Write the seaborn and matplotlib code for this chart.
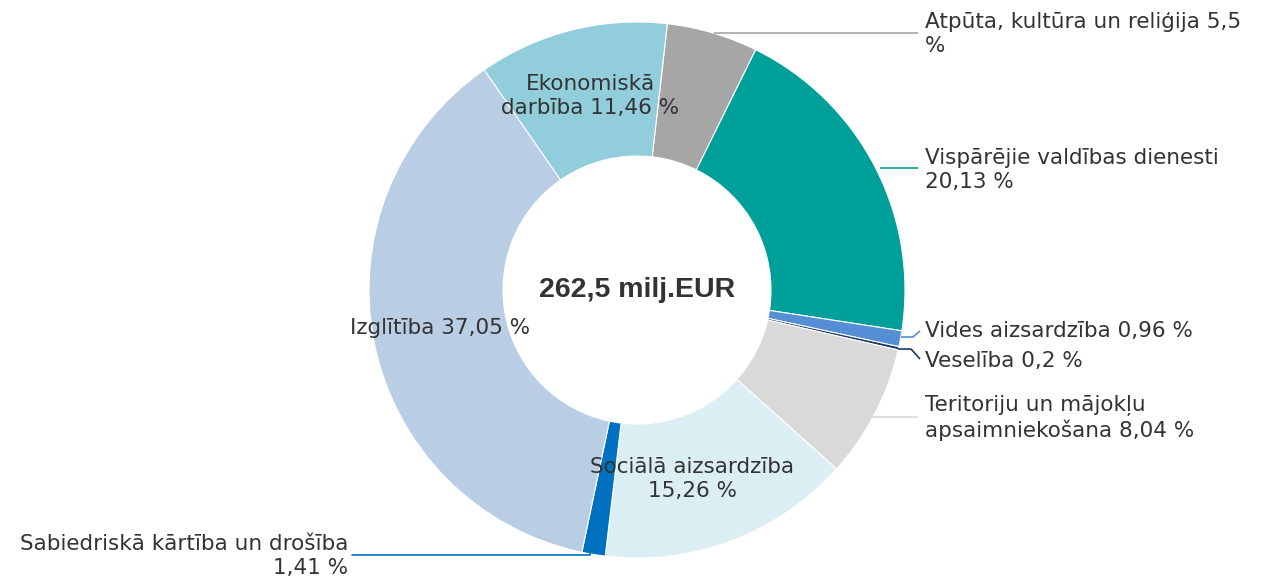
import matplotlib
matplotlib.use("Agg")
import matplotlib.pyplot as plt
import seaborn as sns


# -------------------------------
# DATA
# -------------------------------
categories = [
    "Atpūta, kultūra un reliģija",
    "Vispārējie valdības dienesti",
    "Vides aizsardzība",
    "Veselība",
    "Teritoriju un mājokļu apsaimniekošana",
    "Sociālā aizsardzība",
    "Sabiedriskā kārtība un drošība",
    "Izglītība",
    "Ekonomiskā darbība",
]
shares = [5.5, 20.13, 0.96, 0.2, 8.04, 15.26, 1.41, 37.05, 11.46]
share_labels = ["5,5", "20,13", "0,96", "0,2", "8,04", "15,26", "1,41", "37,05", "11,46"]
colors = ["#A6A6A6", "#00A09A", "#558ED5", "#1F3864", "#D9D9D9",
          "#DBEEF4", "#0070C0", "#B9CDE5", "#92CDDC"]
center_text = "262,5 milj.EUR"

# -------------------------------
# FIGURE (pixel helpers)
# -------------------------------
W, H = 1266, 583
CX, CY, R = 637, 290, 268


def px(x, y):
    # pixel (from top-left) -> data units, radius = 1
    return (x - CX) / R, (CY - y) / R


sns.set_theme(style="white")
plt.rcParams["font.family"] = ["DejaVu Sans"]
txt_color = "#333333"

fig = plt.figure(figsize=(W / 100, H / 100), dpi=100)
ax = fig.add_axes([0, 0, 1, 1])

ax.pie(shares, colors=colors, startangle=83.5, counterclock=False,
       radius=1, wedgeprops=dict(width=0.5, edgecolor="white", linewidth=0.8))

# limits after pie(), which resets them
ax.set_xlim(-CX / R, (W - CX) / R)
ax.set_ylim(-(H - CY) / R, CY / R)
ax.set_aspect("equal")
ax.axis("off")

ax.text(0, 0, center_text, ha="center", va="center", fontsize=20.5,
        fontweight="bold", family="Liberation Sans", color=txt_color)

fs = 15.5
ls = 1.22

# inside labels
inside = [
    (8, "Ekonomiskā\ndarbība {} %", 590, 96),
    (7, "Izglītība {} %", 440, 328),
    (5, "Sociālā aizsardzība\n{} %", 692, 479),
]
for i, fmt, x, y in inside:
    ax.text(*px(x, y), fmt.format(share_labels[i]), ha="center", va="center",
            fontsize=fs, color=txt_color, linespacing=ls)

# outside labels with connectors: (index, text, text pos, connector pts)
outside = [
    (0, "{} {}\n%", (925, 34), [(714, 33), (918, 33)]),
    (1, "Vispārējie valdības dienesti\n{} %", (925, 170), [(880, 168), (918, 168)]),
    (2, "{} {} %", (925, 331), [(901, 337), (913, 337), (920, 331)]),
    (3, "{} {} %", (925, 361), [(898, 349), (911, 349), (920, 359)]),
    (4, "Teritoriju un mājokļu\napsaimniekošana {} %", (925, 418), [(870, 417), (918, 417)]),
]
for i, fmt, (x, y), pts in outside:
    if fmt.count("{}") == 2:
        label = fmt.format(categories[i], share_labels[i])
    else:
        label = fmt.format(share_labels[i])
    ax.text(*px(x, y), label, ha="left", va="center", fontsize=fs,
            color=txt_color, linespacing=ls)
    xs, ys = zip(*[px(a, b) for a, b in pts])
    ax.plot(xs, ys, color=colors[i], lw=1.2, solid_capstyle="butt")

# Sabiedriskā label on the left
ax.text(*px(348, 556), "Sabiedriskā kārtība un drošība\n{} %".format(share_labels[6]),
        ha="right", va="center", fontsize=fs, color=txt_color,
        linespacing=ls, multialignment="right")
xs, ys = zip(*[px(a, b) for a, b in [(590, 551), (590, 555), (352, 555)]])
ax.plot(xs, ys, color=colors[6], lw=1.2)

fig.savefig("out.png", dpi=100, facecolor="white")
